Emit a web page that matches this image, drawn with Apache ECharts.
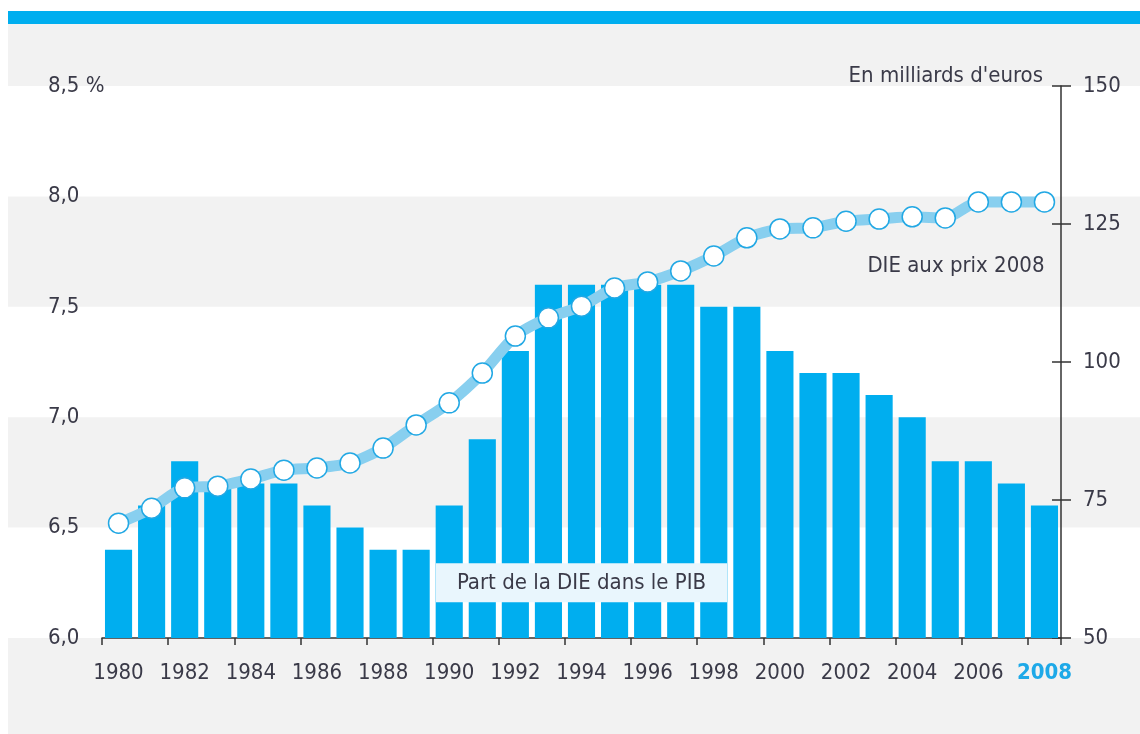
<!DOCTYPE html>
<html>
<head>
<meta charset="utf-8">
<script src="https://cdn.jsdelivr.net/npm/echarts@6/dist/echarts.min.js"></script>
<style>
html,body{margin:0;padding:0;background:#fff;}
#chart{width:1140px;height:734px;}
</style>
</head>
<body>
<div id="chart"></div>
<script>
// ---- Data ----
const years = ['1980','1981','1982','1983','1984','1985','1986','1987','1988','1989',
  '1990','1991','1992','1993','1994','1995','1996','1997','1998','1999',
  '2000','2001','2002','2003','2004','2005','2006','2007','2008'];
// Part de la DIE dans le PIB (%)
const shareOfGdp = [6.4,6.6,6.8,6.7,6.7,6.7,6.6,6.5,6.4,6.4,
  6.6,6.9,7.3,7.6,7.6,7.6,7.6,7.6,7.5,7.5,
  7.3,7.2,7.2,7.1,7.0,6.8,6.8,6.7,6.6];
// DIE aux prix 2008 (milliards d'euros)
const dieConstPrices = [70.8,73.5,77.2,77.5,78.8,80.4,80.8,81.7,84.4,88.6,
  92.6,98.0,104.7,108.0,110.1,113.4,114.5,116.5,119.2,122.5,
  124.1,124.3,125.5,125.9,126.3,126.1,129.0,129.0,129.0];
const leftTicks = [6.0, 6.5, 7.0, 7.5, 8.0, 8.5];
const rightTicks = [50, 75, 100, 125, 150];
const whiteBands = [[6.0,6.5],[7.0,7.5],[8.0,8.5]];
const highlightYear = '2008';

const FONT = "'Liberation Sans Narrow','DejaVu Sans Condensed','Liberation Sans',sans-serif";
const FS = 22;
const TXT = '#3a3a48';
const BLUE = '#00aeef';

const chart = echarts.init(document.getElementById('chart'), null, {renderer:'canvas'});

const option = {
  animation: false,
  backgroundColor: '#ffffff',
  textStyle: {fontFamily: FONT, color: TXT},
  grid: {left: 102, right: 79, top: 86, bottom: 96, containLabel: false},
  xAxis: {
    type: 'category',
    data: years,
    boundaryGap: true,
    axisLine: {show: true, lineStyle: {color: '#333', width: 1.5}},
    axisTick: {show: true, length: 7, lineStyle: {color: '#333', width: 1.5}},
    axisLabel: {
      interval: 1, margin: 24, fontSize: FS, fontFamily: FONT, color: TXT,
      formatter: v => v === highlightYear ? '{hl|' + v + '}' : v,
      rich: {hl: {color: '#1ea9e8', fontSize: FS, fontFamily: FONT, fontWeight: 'bold'}}
    },
    splitLine: {show: false}
  },
  yAxis: [
    {
      type: 'value', position: 'left',
      min: leftTicks[0], max: leftTicks[leftTicks.length-1], interval: 0.5,
      startValue: leftTicks[0],
      axisLine: {show: false}, axisTick: {show: false}, splitLine: {show: false},
      axisLabel: {
        align: 'left', margin: 54, fontSize: FS, fontFamily: FONT, color: TXT,
        formatter: v => {
          const s = v.toFixed(1).replace('.', ',');
          return v === leftTicks[leftTicks.length-1] ? s + ' %' : s;
        }
      }
    },
    {
      type: 'value', position: 'right',
      min: rightTicks[0], max: rightTicks[rightTicks.length-1], interval: 25,
      name: "En milliards d'euros", nameLocation: 'end', nameGap: 10,
      nameTextStyle: {fontSize: FS, fontFamily: FONT, color: TXT, align: 'right', verticalAlign: 'middle', padding: [0, 18, 0, 0]},
      axisLine: {show: true, lineStyle: {color: '#333', width: 1.5}},
      axisTick: {show: true, length: 10, lineStyle: {color: '#333', width: 1.5}},
      splitLine: {show: false},
      axisLabel: {margin: 22, fontSize: FS, fontFamily: FONT, color: TXT}
    },
    {
      type: 'value', position: 'right',
      min: rightTicks[0], max: rightTicks[rightTicks.length-1], interval: 25,
      axisLine: {show: false},
      axisTick: {show: true, inside: true, length: 9, lineStyle: {color: '#333', width: 1.5}},
      axisLabel: {show: false}, splitLine: {show: false}
    }
  ],
  series: [
    {
      name: 'Part de la DIE dans le PIB',
      type: 'bar',
      yAxisIndex: 0,
      data: shareOfGdp,
      barCategoryGap: '18%',
      itemStyle: {color: BLUE},
      z: 2,
      markPoint: {
        symbol: 'rect', symbolSize: 0, silent: true,
        data: [{coord: ['1994', 6.25], value: 0}],
        label: {
          show: true, position: 'inside', formatter: 'Part de la DIE dans le PIB',
          fontSize: FS, fontFamily: FONT, color: TXT,
          backgroundColor: '#e9f6fd', padding: [7, 21, 6, 21], lineHeight: 26
        },
        z: 10
      }
    },
    {
      name: 'DIE aux prix 2008',
      type: 'line',
      yAxisIndex: 1,
      data: dieConstPrices,
      smooth: 0.25,
      symbol: 'circle', symbolSize: 20,
      lineStyle: {color: '#88cfef', width: 11},
      itemStyle: {color: '#ffffff', borderColor: '#22a8e4', borderWidth: 1.5},
      z: 5,
      markPoint: {
        symbol: 'rect', symbolSize: 0, silent: true,
        data: [{coord: ['2008', 117.4], value: 0}],
        label: {
          show: true, position: 'inside', align: 'right', offset: [0, 0],
          formatter: 'DIE aux prix 2008',
          fontSize: FS, fontFamily: FONT, color: TXT
        }
      }
    }
  ]
};
chart.setOption(option);

// Background bands computed from the left axis scale
function drawBands() {
  const els = [];
  els.push({type: 'rect', z: -20, silent: true, shape: {x: 8, y: 24, width: 1132, height: 710}, style: {fill: '#f2f2f2'}});
  els.push({type: 'rect', z: -19, silent: true, shape: {x: 8, y: 11, width: 1132, height: 13}, style: {fill: BLUE}});
  whiteBands.forEach(b => {
    const y1 = chart.convertToPixel({yAxisIndex: 0}, b[1]);
    const y0 = chart.convertToPixel({yAxisIndex: 0}, b[0]);
    els.push({type: 'rect', z: -18, silent: true, shape: {x: 8, y: y1, width: 1132, height: y0 - y1}, style: {fill: '#ffffff'}});
  });
  chart.setOption({graphic: {elements: els}});
}
drawBands();
</script>
</body>
</html>
